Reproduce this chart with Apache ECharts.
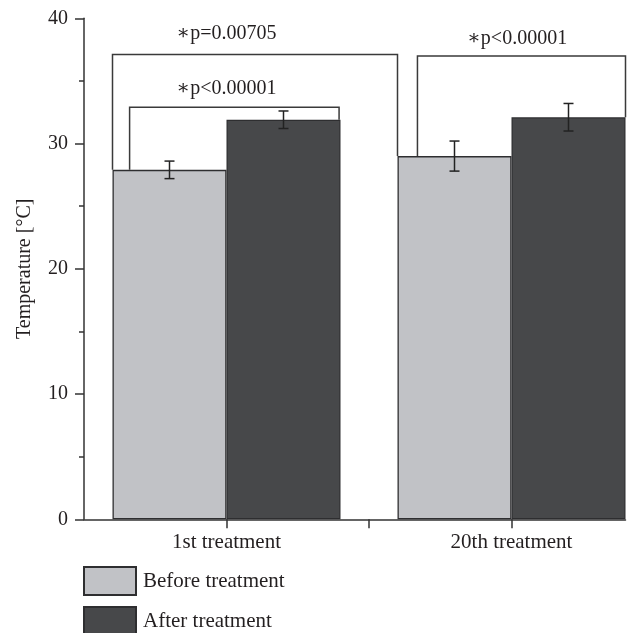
<!DOCTYPE html>
<html>
<head>
<meta charset="utf-8">
<script src="https://cdn.jsdelivr.net/npm/echarts@6/dist/echarts.min.js"></script>
<style>
  html, body { margin: 0; padding: 0; background: #fff; }
  #chart { width: 641px; height: 633px; }
</style>
</head>
<body>
<div id="chart"></div>
<script>
// data
var categories = ['1st treatment', '20th treatment'];
var beforeVals = [27.9, 29.0];
var afterVals = [31.9, 32.1];
var beforeErr = [0.7, 1.2];
var afterErr = [0.7, 1.1];
var yTicks = [0, 10, 20, 30, 40];

// significance brackets: x in category units, top in degrees
var bracketLeft = [-0.34, -0.4, 0.67];
var bracketRight = [0.395, 0.6, 1.4];
var bracketTop = [32.9, 37.1, 37.0];
var bracketFootL = [beforeVals[0], beforeVals[0], beforeVals[1]];
var bracketFootR = [afterVals[0], beforeVals[1], afterVals[1]];
var pTexts = ['\u2217p<0.00001', '\u2217p=0.00705', '\u2217p<0.00001'];
var pTextX = [0, 0, 1.02];
var pTextY = [34.4, 38.8, 38.4];

var FONT = '"Liberation Serif", "DejaVu Serif", serif';
var INK = '#231f20';

function loadChartView(id, option) {
    var myChart = echarts.init(document.getElementById(id), null, { renderer: 'canvas' });
    myChart.setOption(option);
    window.addEventListener("resize", function(){
        myChart.resize();
    });
    return myChart;
}

function barData(vals) {
    return vals.map(function (v, i) { return [i, v]; });
}

function errData() {
    var rows = [];
    for (var i = 0; i < categories.length; i++) {
        rows.push([i - 0.2, beforeVals[i] - beforeErr[i], beforeVals[i] + beforeErr[i]]);
        rows.push([i + 0.2, afterVals[i] - afterErr[i], afterVals[i] + afterErr[i]]);
    }
    return rows;
}

function bracketData() {
    var rows = [];
    for (var i = 0; i < pTexts.length; i++) {
        rows.push([bracketLeft[i], bracketRight[i], bracketTop[i], bracketFootL[i], bracketFootR[i], pTextX[i], pTextY[i], i]);
    }
    return rows;
}

function getChart() {
    var option = {
        animation: false,
        backgroundColor: '#fff',
        grid: { left: 84, right: 15.5, top: 18.3, bottom: 113.7, containLabel: false },
        legend: {
            data: ['Before treatment', 'After treatment'],
            orient: 'vertical',
            left: 83,
            top: 566,
            height: 90,
            padding: 0,
            icon: 'rect',
            itemWidth: 52,
            itemHeight: 28,
            itemGap: 10,
            textStyle: { fontFamily: FONT, fontSize: 21, color: INK, padding: [0, 0, 0, 2] }
        },
        xAxis: {
            type: 'value',
            min: -0.5,
            max: 1.4,
            interval: 0.5,
            splitLine: { show: false },
            axisLine: { show: true, onZero: false, lineStyle: { color: '#333', width: 1.5 } },
            axisTick: { show: true, customValues: [0, 0.5, 1], length: 9, lineStyle: { color: '#333', width: 1.5 } },
            axisLabel: {
                customValues: [0, 1],
                formatter: function (v) { return categories[Math.round(v)]; },
                fontFamily: FONT, fontSize: 21, color: INK, margin: 13
            }
        },
        yAxis: {
            type: 'value',
            min: 0,
            max: 40,
            interval: 10,
            name: 'Temperature [\u00b0C]',
            nameLocation: 'middle',
            nameGap: 49,
            nameTextStyle: { fontFamily: FONT, fontSize: 20, color: INK },
            splitLine: { show: false },
            axisLine: { show: true, onZero: false, lineStyle: { color: '#333', width: 1.5 } },
            axisTick: { show: true, length: 9, lineStyle: { color: '#333', width: 1.5 } },
            minorTick: { show: true, splitNumber: 2, length: 5, lineStyle: { color: '#333', width: 1.5 } },
            axisLabel: {
                fontFamily: FONT, fontSize: 20, color: INK, margin: 16,
                formatter: function (v) { return yTicks.indexOf(v) >= 0 ? String(v) : ''; }
            }
        },
        series: [
            {
                name: 'Before treatment',
                type: 'bar',
                data: barData(beforeVals),
                barWidth: '40%',
                barGap: '0%',
                itemStyle: { color: '#c1c2c6', borderColor: '#2e2e30', borderWidth: 1.3 }
            },
            {
                name: 'After treatment',
                type: 'bar',
                data: barData(afterVals),
                barWidth: '40%',
                barGap: '0%',
                itemStyle: { color: '#47484a', borderColor: '#2e2e30', borderWidth: 1.3 }
            },
            {
                type: 'custom',
                name: 'errors',
                data: errData(),
                clip: false,
                z: 5,
                renderItem: function (params, api) {
                    var x = api.value(0);
                    var lo = api.coord([x, api.value(1)]);
                    var hi = api.coord([x, api.value(2)]);
                    var hw = 5;
                    var st = { stroke: '#222', lineWidth: 1.5 };
                    return {
                        type: 'group',
                        children: [
                            { type: 'line', shape: { x1: lo[0], y1: lo[1], x2: hi[0], y2: hi[1] }, style: st },
                            { type: 'line', shape: { x1: lo[0] - hw, y1: lo[1], x2: lo[0] + hw, y2: lo[1] }, style: st },
                            { type: 'line', shape: { x1: hi[0] - hw, y1: hi[1], x2: hi[0] + hw, y2: hi[1] }, style: st }
                        ]
                    };
                }
            },
            {
                type: 'custom',
                name: 'brackets',
                data: bracketData(),
                clip: false,
                z: 6,
                renderItem: function (params, api) {
                    var xl = api.value(0), xr = api.value(1), top = api.value(2);
                    var a = api.coord([xl, api.value(3)]);
                    var b = api.coord([xl, top]);
                    var c = api.coord([xr, top]);
                    var d = api.coord([xr, api.value(4)]);
                    var t = api.coord([api.value(5), api.value(6)]);
                    return {
                        type: 'group',
                        children: [
                            {
                                type: 'polyline',
                                shape: { points: [a, b, c, d] },
                                style: { stroke: '#3a3a3a', lineWidth: 1.5, fill: null }
                            },
                            {
                                type: 'text',
                                x: t[0],
                                y: t[1],
                                style: {
                                    text: pTexts[api.value(7)],
                                    fontFamily: FONT,
                                    fontSize: 20,
                                    fill: INK,
                                    align: 'center',
                                    verticalAlign: 'middle'
                                }
                            }
                        ]
                    };
                }
            }
        ]
    };
    return option;
}

loadChartView('chart', getChart());
</script>
</body>
</html>
